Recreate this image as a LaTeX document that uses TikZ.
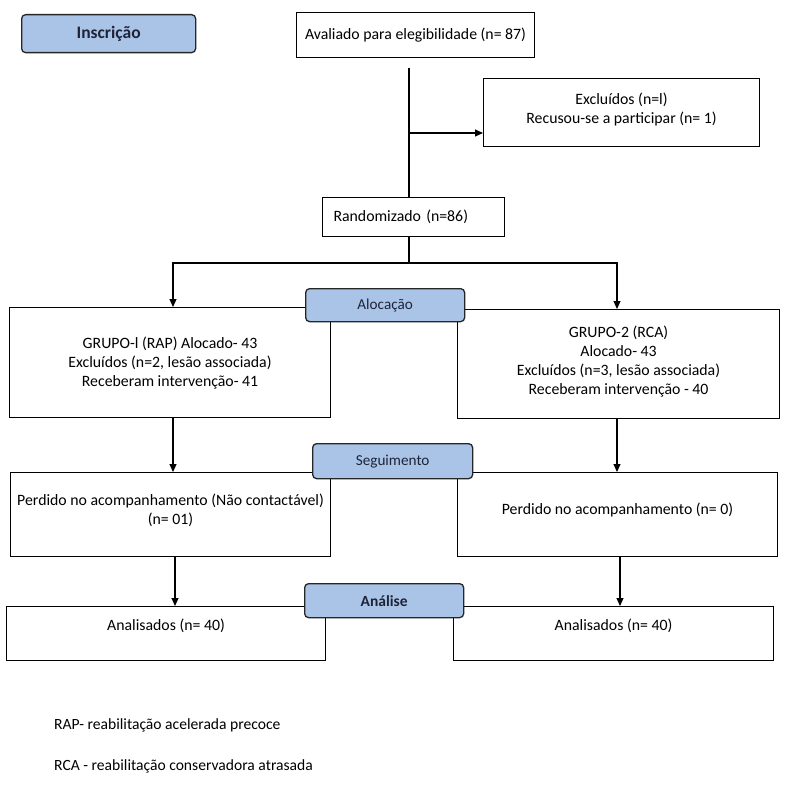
\documentclass[tikz,border=0pt]{standalone}
\usepackage{fontspec}
\setmainfont{Carlito}
\usetikzlibrary{arrows.meta,positioning}
\definecolor{stageblue}{RGB}{170,196,232}
\definecolor{stagetext}{RGB}{30,36,56}

\tikzset{
  box/.style={draw, line width=1.1pt, anchor=north west, inner sep=0pt, align=center,
    font=\fontsize{15.8}{19}\selectfont},
  stage/.style={draw=black!85, fill=stageblue, rounded corners=4pt, line width=1.3pt,
    anchor=north west, inner sep=0pt, text=stagetext, font=\fontsize{15.2}{18}\selectfont},
  link/.style={line width=1.1pt, -{Triangle[length=8pt,width=7pt]}},
  note/.style={anchor=west, inner sep=0pt, font=\fontsize{15.6}{18}\selectfont}
}

\begin{document}
\begin{tikzpicture}[x=1pt,y=-1pt]
  \useasboundingbox (0,0) rectangle (784,800);

  % boxes
  \node[box, minimum width=238pt, minimum height=45pt] (aval) at (296,12)
    {Avaliado para elegibilidade (n= 87)};
  \node[box, minimum width=276pt, minimum height=68pt, text depth=8pt] (excl) at (483,78)
    {Excluídos (n=l)\\Recusou-se a participar (n= 1)};
  \node[box, minimum width=182pt, minimum height=39pt, text width=160pt, align=left] (rand) at (322,197)
    {Randomizado (n=86)};

  \node[box, minimum width=321pt, minimum height=110pt] (grp1) at (9,307)
    {GRUPO-l (RAP) Alocado- 43\\Excluídos (n=2, lesão associada)\\Receberam intervenção- 41};
  \node[box, minimum width=322pt, minimum height=109pt, text depth=8pt] (grp2) at (457,309)
    {GRUPO-2 (RCA)\\Alocado- 43\\Excluídos (n=3, lesão associada)\\Receberam intervenção - 40};

  \node[box, minimum width=320pt, minimum height=84pt, text depth=10pt] (lost1) at (10,472)
    {Perdido no acompanhamento (Não contactável)\\(n= 01)};
  \node[box, minimum width=320pt, minimum height=84pt, text depth=12pt] (lost2) at (457,472)
    {Perdido no acompanhamento (n= 0)};

  \node[box, minimum width=319pt, minimum height=54pt, text depth=17pt] (anl1) at (6,606)
    {Analisados (n= 40)};
  \node[box, minimum width=320pt, minimum height=54pt, text depth=17pt] (anl2) at (453,606)
    {Analisados (n= 40)};

  % stages
  \node[stage, minimum width=174pt, minimum height=38pt, font=\fontsize{17.5}{20}\selectfont\bfseries]
    (insc) at (21,14) {Inscrição};
  \node[stage, minimum width=159pt, minimum height=33pt] (aloc) at (305,288) {Alocação};
  \node[stage, minimum width=160pt, minimum height=35pt] (segu) at (312,443) {Seguimento};
  \node[stage, minimum width=159pt, minimum height=34pt, font=\fontsize{15.5}{18}\selectfont\bfseries]
    (anal) at (304,583) {Análise};

  % connectors
  \coordinate (top) at (409,68);
  \coordinate (side) at (409,133);
  \coordinate (split) at (409,263);
  \draw[line width=1.1pt] (top) -- (rand.north -| top);
  \draw[link] (side) -- (side -| excl.west);
  \draw[line width=1.1pt] (rand.south -| split) -- (split);
  \draw[link] (split) -| (173,307);
  \draw[link] (split) -| (617,309);
  \draw[link] (grp1.south -| 173,0) -- (lost1.north -| 173,0);
  \draw[link] (grp2.south -| 617,0) -- (lost2.north -| 617,0);
  \draw[link] (lost1.south -| 175,0) -- (anl1.north -| 175,0);
  \draw[link] (lost2.south -| 620,0) -- (anl2.north -| 620,0);

  % notes
  \node[note] (rap) at (54,725) {RAP- reabilitação acelerada precoce};
  \node[note] (rca) at (54,766) {RCA - reabilitação conservadora atrasada};
\end{tikzpicture}
\end{document}
